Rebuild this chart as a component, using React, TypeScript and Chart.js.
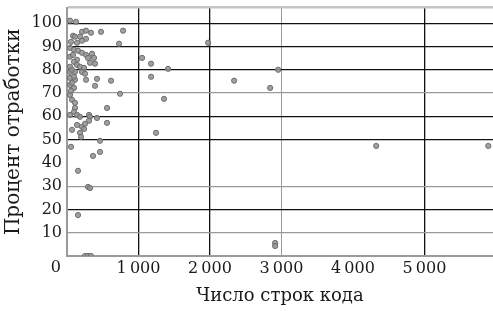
import React, { useEffect, useRef } from "react";
import { Chart, registerables } from "chart.js";

Chart.register(...registerables);

// Data: lines of code vs. percent worked out
const linesOfCode: number[] = [
  42, 126, 210, 266, 336, 476, 784, 84, 112, 182, 266, 728, 56, 140, 210,
  42, 98, 154, 210, 266, 350, 294, 378, 42, 140, 84,
  322, 98, 140, 182, 238, 392, 42, 42, 112, 210, 252, 70,
  42, 112, 266, 420, 616, 98, 42, 98, 392, 70,
  42, 70, 112, 742, 56,
  112, 98, 560, 140, 182, 308, 322, 420, 42, 560, 140, 210, 252, 70, 182, 238, 308,
  196, 56, 462, 462, 364, 154, 294, 322, 154, 252, 294, 336,
  1050, 1176, 1176, 1414, 1358, 1246, 1974, 2338, 2842, 2954, 2912, 2912, 4326, 5894,
];
const percentWorked: number[] = [
  101.1, 100.6, 96.3, 96.8, 95.9, 96.3, 96.8, 94.6, 94.2, 94.2, 93.3, 91.2, 92.0, 91.6, 92.5,
  89.4, 88.6, 88.2, 87.3, 86.4, 86.9, 85.1, 85.1, 85.6, 84.3, 86.4,
  83.0, 83.4, 82.1, 81.3, 80.8, 82.6, 81.3, 79.1, 79.1, 79.1, 78.3, 80.0,
  76.5, 75.7, 75.7, 76.1, 75.3, 77.0, 73.5, 72.2, 73.1, 74.4,
  69.2, 67.1, 65.8, 69.7, 71.0,
  63.6, 61.9, 63.6, 60.6, 59.8, 60.6, 59.8, 59.3, 60.6, 57.2, 56.3, 55.5, 56.8, 54.2, 52.9, 54.6, 58.1,
  51.2, 46.9, 49.5, 44.7, 43.0, 36.6, 29.7, 29.2, 17.6, 0, 0, 0,
  85.1, 82.6, 77.0, 80.4, 67.5, 52.9, 91.6, 75.3, 72.2, 80.0, 5.6, 4.3, 47.3, 47.3,
];

const xTickValues: number[] = [0, 1000, 2000, 3000, 4000, 5000];
const xTickLabels: string[] = ["0", "1\u2009000", "2\u2009000", "3\u2009000", "4\u2009000", "5\u2009000"];
const yTickValues: number[] = [0, 10, 20, 30, 40, 50, 60, 70, 80, 90, 100];
const yTickLabels: string[] = ["0", "10", "20", "30", "40", "50", "60", "70", "80", "90", "100"];

const X_MAX = 5960;
const Y_MAX = 106.7;

const xTitle = "Число строк кода";
const yTitle = "Процент отработки";

const FONT = "'DejaVu Serif', 'Liberation Serif', serif";
const TEXT = "#1a1a1a";
const DARK = "#111111";
const GRAY = "#9a9a9a";
const NONE = "rgba(0,0,0,0)";

const xGridStyle: Record<number, string> = { 0: NONE, 1000: DARK, 2000: DARK, 3000: GRAY, 4000: NONE, 5000: DARK };
const yGridStyle: Record<number, string> = {
  0: NONE, 10: GRAY, 20: DARK, 30: GRAY, 40: NONE, 50: DARK, 60: DARK, 70: GRAY, 80: DARK, 90: DARK, 100: DARK,
};

// canvas is slightly larger than the window so the plot area reaches the top/right edges like the original
const CANVAS_W = 498;
const CANVAS_H = 318;
const SHIFT_TOP = -7;

const zeroLabelPlugin = {
  id: "zeroLabel",
  afterDraw(chart: any) {
    const xs = chart.scales.x;
    const ys = chart.scales.y;
    const ctx = chart.ctx;
    ctx.save();
    ctx.font = `16px ${FONT}`;
    ctx.fillStyle = TEXT;
    ctx.textAlign = "right";
    ctx.textBaseline = "middle";
    ctx.fillText(yTickLabels[0], ys.right - 6, xs.top + 12);
    ctx.restore();
  },
};

export default function App() {
  const ref = useRef<HTMLCanvasElement | null>(null);
  useEffect(() => {
    if (!ref.current) return;
    const points = linesOfCode.map((x, i) => ({ x, y: percentWorked[i] }));
    const chart = new Chart(ref.current, {
      type: "scatter",
      data: {
        datasets: [
          {
            data: points,
            backgroundColor: "rgba(150,150,150,0.9)",
            borderColor: "#6e6e6e",
            borderWidth: 1,
            pointRadius: 2.6,
          },
        ],
      },
      options: {
        animation: false,
        responsive: false,
        layout: { padding: 0 },
        plugins: { legend: { display: false }, tooltip: { enabled: false } },
        scales: {
          x: {
            type: "linear",
            min: 0,
            max: X_MAX,
            afterBuildTicks: (s: any) => {
              s.ticks = xTickValues.map((v) => ({ value: v }));
            },
            afterFit: (s: any) => {
              s.height = 55;
            },
            ticks: {
              autoSkip: false,
              font: { family: FONT, size: 16 },
              color: TEXT,
              padding: 3,
              maxRotation: 0,
              callback: (v: any) => {
                const i = xTickValues.indexOf(Number(v));
                return i <= 0 ? "" : xTickLabels[i];
              },
            },
            grid: {
              drawTicks: false,
              lineWidth: (c: any) => (c.tick && c.tick.value === 3000 ? 1 : 1.3),
              color: (c: any) => (c.tick ? xGridStyle[c.tick.value] ?? NONE : NONE),
            },
            border: { display: true, color: GRAY, width: 2 },
            title: {
              display: true,
              text: xTitle,
              font: { family: FONT, size: 18 },
              color: TEXT,
              padding: { top: 4, bottom: 4 },
            },
          },
          y: {
            type: "linear",
            min: 0,
            max: Y_MAX,
            afterBuildTicks: (s: any) => {
              s.ticks = [...yTickValues, Y_MAX].map((v) => ({ value: v }));
            },
            afterFit: (s: any) => {
              s.width = 67;
            },
            ticks: {
              autoSkip: false,
              font: { family: FONT, size: 16 },
              color: TEXT,
              padding: 5,
              callback: (v: any) => {
                const i = yTickValues.indexOf(Number(v));
                return i <= 0 ? "" : yTickLabels[i];
              },
            },
            grid: {
              drawTicks: false,
              lineWidth: (c: any) => (c.tick && c.tick.value === Y_MAX ? 2.5 : 1.3),
              color: (c: any) => {
                if (!c.tick) return NONE;
                if (c.tick.value === Y_MAX) return "#c4c4c4";
                return yGridStyle[c.tick.value] ?? NONE;
              },
            },
            border: { display: true, color: GRAY, width: 2 },
            title: {
              display: true,
              text: yTitle,
              font: { family: FONT, size: 20 },
              color: TEXT,
              padding: { top: 2, bottom: 2 },
            },
          },
        },
      },
      plugins: [zeroLabelPlugin],
    });
    return () => chart.destroy();
  }, []);
  return (
    <div
      style={{
        position: "fixed",
        left: 0,
        top: 0,
        width: 493,
        height: 311,
        overflow: "hidden",
        background: "#fff",
      }}
    >
      <canvas
        ref={ref}
        width={CANVAS_W}
        height={CANVAS_H}
        style={{ position: "absolute", left: 0, top: SHIFT_TOP, width: CANVAS_W, height: CANVAS_H }}
      />
    </div>
  );
}
